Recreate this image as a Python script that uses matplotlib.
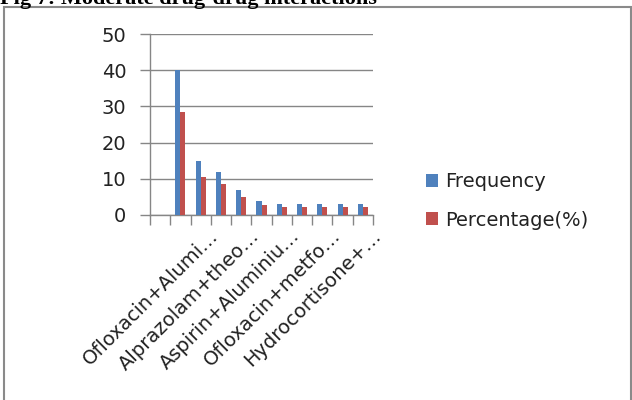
import matplotlib.pyplot as plt
import matplotlib.patches as mpatches
import matplotlib.transforms as mtransforms
import numpy as np

# moderate drug-drug interactions, first slot left blank in the sheet
categories = ["", "", "Ofloxacin+Alumi…", "", "Alprazolam+theo…", "",
              "Aspirin+Aluminiu…", "", "Ofloxacin+metfo…", "", "Hydrocortisone+…"]
frequency = [0, 40, 15, 12, 7, 4, 3, 3, 3, 3, 3]
percentage = [0, 28.4, 10.6, 8.5, 5.0, 2.8, 2.1, 2.1, 2.1, 2.1, 2.1]

blue = "#4F81BD"
red = "#C0504D"
grey = "#868686"
ink = "#222222"

fig = plt.figure(figsize=(6.32, 4.0), dpi=100)
ax = fig.add_axes([150 / 632, 1 - 215 / 400, 223 / 632, 181 / 400])

x = np.arange(len(categories))
w = 0.25
ax.bar(x - w / 2, frequency, w, color=blue, label="Frequency", zorder=3)
ax.bar(x + w / 2, percentage, w, color=red, label="Percentage(%)", zorder=3)

ax.set_xlim(-0.5, len(categories) - 0.5)
ax.set_ylim(0, 50)
ax.set_yticks(range(0, 51, 10))
ax.yaxis.grid(True, color=grey, lw=1.0, zorder=0)

# category boundaries carry the tick marks, labels sit on the centres
ax.set_xticks(np.arange(-0.5, len(categories), 1.0))
ax.set_xticklabels([])
ax.set_xticks(x, minor=True)
ax.set_xticklabels(categories, minor=True, rotation=45, ha="right", va="top",
                   rotation_mode="anchor", fontsize=14)
ax.tick_params(axis="x", which="minor", length=0, pad=8, labelcolor=ink)
ax.tick_params(axis="x", which="major", length=7, color=grey, width=1)
ax.tick_params(axis="y", length=7, color=grey, width=1, labelsize=14, pad=10,
               labelcolor=ink)
shift = mtransforms.ScaledTranslation(8 / 100, 0, fig.dpi_scale_trans)
for lab in ax.xaxis.get_minorticklabels():
    lab.set_transform(lab.get_transform() + shift)

for side in ["top", "right"]:
    ax.spines[side].set_visible(False)
for side in ["left", "bottom"]:
    ax.spines[side].set_color(grey)
    ax.spines[side].set_linewidth(1)

fig.legend(loc="center left", bbox_to_anchor=(408 / 632, 1 - 201 / 400),
           frameon=False, fontsize=14, handlelength=0.65, handleheight=0.65,
           handletextpad=0.35, labelspacing=1.0, labelcolor=ink)

# chart frame and clipped caption above it
fig.patches.append(mpatches.Rectangle((4 / 632, -0.02), 627 / 632, 1.0025,
                                      transform=fig.transFigure, fill=False,
                                      edgecolor="#8a8a8a", lw=1.5))
fig.text(0.0, 1 - 4 / 400, "Fig 7: Moderate drug-drug interactions",
         family="Liberation Serif", weight="bold", fontsize=16, va="baseline")

fig.savefig("out.png", dpi=100)
